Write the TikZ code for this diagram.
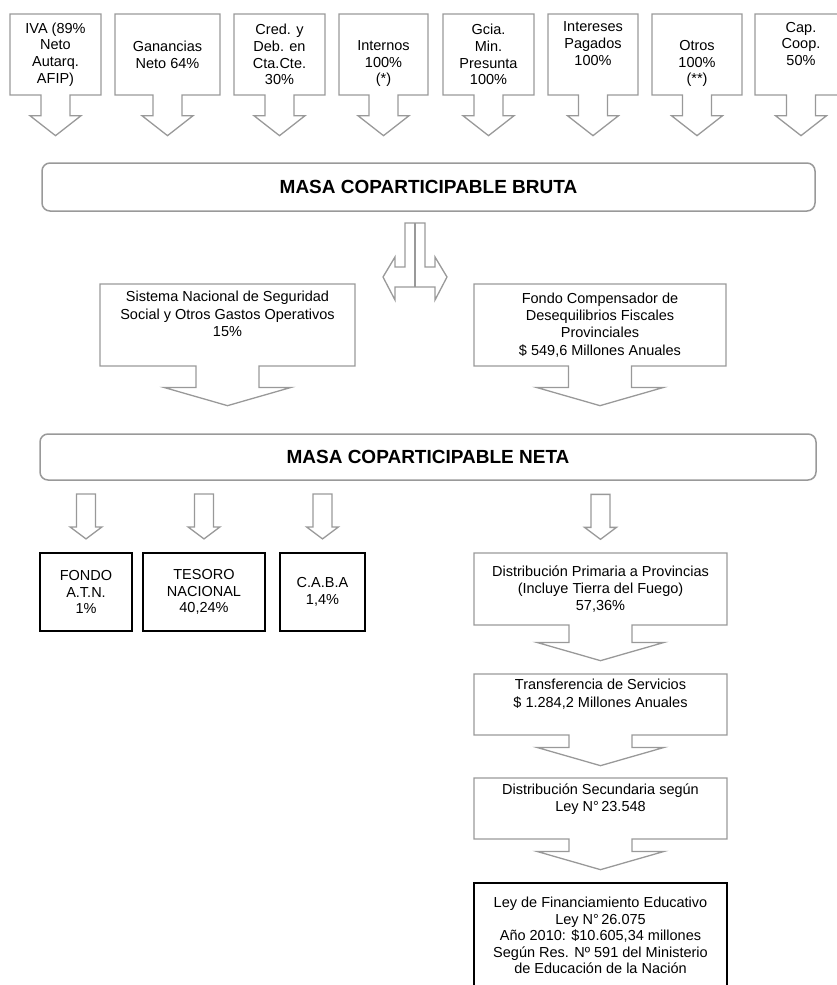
\documentclass[tikz,border=0pt]{standalone}
\usepackage{fontspec}
\setmainfont{Liberation Sans}
\usetikzlibrary{shapes.arrows}

\definecolor{boxgray}{gray}{0.6}

\tikzset{
  topbox/.style={shape=arrow box, draw=boxgray, line width=1.3pt, align=center,
    inner sep=2pt, minimum height=81pt, font=\fontsize{14.5}{16.7}\selectfont,
    arrow box arrows={south:40pt}, arrow box shaft width=29pt,
    arrow box head extend=11pt, arrow box tip angle=104},
  midbox/.style={shape=arrow box, draw=boxgray, line width=1.3pt, align=center,
    inner sep=2pt, font=\fontsize{14.5}{17.2}\selectfont,
    arrow box shaft width=63pt, arrow box head extend=32pt, arrow box tip angle=148},
  masabox/.style={draw=boxgray, line width=1.5pt, rounded corners=8pt,
    font=\bfseries\fontsize{19}{22}\selectfont},
  blackbox/.style={draw=black, line width=2.2pt, align=center, inner sep=2pt,
    font=\fontsize{14.5}{16.5}\selectfont},
  arrowline/.style={draw=boxgray, line width=1.3pt, line join=miter}
}

% block arrow hanging above a node
\newcommand{\smalldown}[1]{%
  \draw[arrowline, shift={(#1.north)}] (-9.5,-58) -- (9.5,-58) -- (9.5,-25)
    -- (16,-25) -- (0,-13) -- (-16,-25) -- (-9.5,-25) -- cycle;}

\begin{document}
\begin{tikzpicture}[x=1pt, y=-1pt]
	\useasboundingbox (0,0) rectangle (836,985);

	% impuestos
	\node[topbox, minimum width=91pt] (iva) at (55.5,54.5) {IVA (89\%\\Neto\\Autarq.\\AFIP)};
	\node[topbox, minimum width=105pt] (ganancias) at (167.5,54.5) {Ganancias\\Neto 64\%};
	\node[topbox, minimum width=91pt] (creditos) at (279.5,54.5) {Cred. y\\Deb. en\\Cta.Cte.\\30\%};
	\node[topbox, minimum width=89pt] (internos) at (383.5,54.5) {\strut\\Internos\\100\%\\(*)};
	\node[topbox, minimum width=91pt] (gcia) at (488.5,54.5) {Gcia.\\Min.\\Presunta\\100\%};
	\node[topbox, minimum width=90pt] (intereses) at (593,54.5) {Intereses\\Pagados\\100\%\\\strut};
	\node[topbox, minimum width=90pt] (otros) at (697,54.5) {\strut\\Otros\\100\%\\(**)};
	\node[topbox, minimum width=92pt] (coop) at (801,54.5) {Cap.\\Coop.\\50\%\\\strut};

	\node[masabox, minimum width=773pt, minimum height=48pt] (bruta) at (428.5,187) {MASA COPARTICIPABLE BRUTA};

	% flecha dividida
	\draw[arrowline] (415,223) -- (405,223) -- (405,267) -- (395,267) -- (395,257)
		-- (383,277) -- (395,300) -- (395,287) -- (435,287) -- (435,300)
		-- (447,277) -- (435,257) -- (435,267) -- (425,267) -- (425,223) -- cycle;
	\draw[arrowline] (415,223) -- (415,287);

	\node[midbox, minimum width=255pt, minimum height=82pt, arrow box arrows={south:39pt}] (sistema) at (227.5,325)
		{Sistema Nacional de Seguridad\\Social y Otros Gastos Operativos\\15\%\\\strut};
	\node[midbox, minimum width=252pt, minimum height=82pt, arrow box arrows={south:39pt}] (fondo) at (600,325)
		{Fondo Compensador de\\Desequilibrios Fiscales\\Provinciales\\\$ 549,6 Millones Anuales};

	\node[masabox, minimum width=776pt, minimum height=46pt] (neta) at (428,457) {MASA COPARTICIPABLE NETA};

	% destinos
	\node[blackbox, minimum width=92pt, minimum height=78pt] (atn) at (86,592) {FONDO\\A.T.N.\\1\%};
	\node[blackbox, minimum width=122pt, minimum height=78pt] (tesoro) at (204,592) {TESORO\\NACIONAL\\40,24\%};
	\node[blackbox, minimum width=85pt, minimum height=78pt] (caba) at (322.5,592) {C.A.B.A\\1,4\%};

	\node[midbox, minimum width=253pt, minimum height=72pt, arrow box arrows={south:35pt}] (primaria) at (600.5,589)
		{Distribución Primaria a Provincias\\(Incluye Tierra del Fuego)\\57,36\%};
	\node[midbox, minimum width=253pt, minimum height=61pt, arrow box arrows={south:30pt}] (transferencia) at (600.5,704.5)
		{Transferencia de Servicios\\\$ 1.284,2 Millones Anuales\\\strut};
	\node[midbox, minimum width=253pt, minimum height=61pt, arrow box arrows={south:30pt}] (secundaria) at (600.5,808.5)
		{Distribución Secundaria según\\Ley N°\,23.548\\\strut};
	\node[blackbox, minimum width=253pt, minimum height=105pt] (ley) at (600.5,935.5)
		{Ley de Financiamiento Educativo\\Ley N°\,26.075\\Año 2010: \$10.605,34 millones\\Según Res. Nº 591 del Ministerio\\de Educación de la Nación};

	\smalldown{atn}
	\smalldown{tesoro}
	\smalldown{caba}
	\smalldown{primaria}

 \end{tikzpicture}
\end{document}
